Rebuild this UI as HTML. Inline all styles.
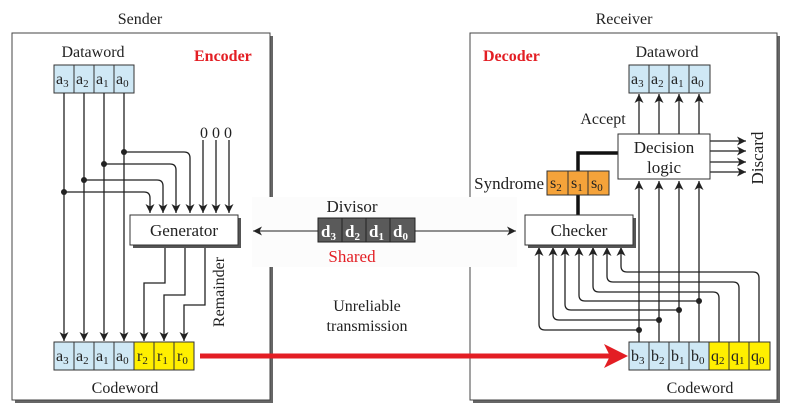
<!DOCTYPE html>
<html><head><style>
body{margin:0;background:#fff}
svg{display:block}
text{font-family:"Liberation Serif",serif;font-size:16px;fill:#222}
.c{text-anchor:middle}
</style></head><body>
<svg width="785" height="417" viewBox="0 0 785 417" xmlns="http://www.w3.org/2000/svg">
<defs>
<marker id="a" markerWidth="10" markerHeight="10" refX="9" refY="4.5" orient="auto" markerUnits="userSpaceOnUse"><path d="M0,0 L9,4.5 L0,9 L2.5,4.5z" fill="#222"/></marker>
</defs>
<rect x="15" y="36" width="258" height="367" fill="#666"/>
<rect x="12" y="33" width="258" height="367" fill="#fff" stroke="#444" stroke-width="1"/>
<text class="c" x="140" y="24">Sender</text>
<rect x="473" y="36" width="307" height="367" fill="#666"/>
<rect x="470" y="33" width="307" height="367" fill="#fff" stroke="#444" stroke-width="1"/>
<text class="c" x="624" y="24">Receiver</text>
<rect x="252" y="197" width="265" height="70" fill="#fcfcfc"/>
<text class="c" x="352" y="212" style="font-size:17px">Divisor</text>
<g fill="#5a5a5a" stroke="#222">
<rect x="318" y="218" width="24" height="24"/><rect x="342" y="218" width="24" height="24"/><rect x="366" y="218" width="24" height="24"/><rect x="390" y="218" width="25" height="24"/>
</g>
<text x="321" y="237" style="fill:#fff;font-weight:bold;font-size:17px">d<tspan dy="3" font-size="11">3</tspan></text>
<text x="345" y="237" style="fill:#fff;font-weight:bold;font-size:17px">d<tspan dy="3" font-size="11">2</tspan></text>
<text x="369" y="237" style="fill:#fff;font-weight:bold;font-size:17px">d<tspan dy="3" font-size="11">1</tspan></text>
<text x="393" y="237" style="fill:#fff;font-weight:bold;font-size:17px">d<tspan dy="3" font-size="11">0</tspan></text>
<line x1="318" y1="231" x2="253" y2="231" stroke="#222" marker-end="url(#a)"/>
<line x1="415" y1="231" x2="516" y2="231" stroke="#222" marker-end="url(#a)"/>
<text class="c" x="352" y="262" style="fill:#e31e24;font-size:17px">Shared</text>
<text class="c" x="367" y="311">Unreliable</text>
<text class="c" x="367" y="331">transmission</text>
<line x1="200" y1="356" x2="612" y2="356" stroke="#e31e24" stroke-width="5"/>
<path d="M604,344 L628,356 L604,368 L610,356z" fill="#e31e24"/>

<text x="194" y="61" style="fill:#e31e24;font-weight:bold;font-size:16px">Encoder</text>
<text class="c" x="93" y="57">Dataword</text>
<g fill="#cfe8f5" stroke="#333">
<rect x="54" y="65" width="20" height="28"/><rect x="74" y="65" width="20" height="28"/><rect x="94" y="65" width="20" height="28"/><rect x="114" y="65" width="20" height="28"/>
</g>
<text x="56" y="84">a<tspan dy="3" font-size="11">3</tspan></text>
<text x="76" y="84">a<tspan dy="3" font-size="11">2</tspan></text>
<text x="96" y="84">a<tspan dy="3" font-size="11">1</tspan></text>
<text x="116" y="84">a<tspan dy="3" font-size="11">0</tspan></text>
<g stroke="#222" fill="none" stroke-width="1.3">
<line x1="64" y1="93" x2="64" y2="341" marker-end="url(#a)"/>
<line x1="84" y1="93" x2="84" y2="341" marker-end="url(#a)"/>
<line x1="104" y1="93" x2="104" y2="341" marker-end="url(#a)"/>
<line x1="124" y1="93" x2="124" y2="341" marker-end="url(#a)"/>
<path d="M124,152 H184 Q190,152 190,158 V213" marker-end="url(#a)"/>
<path d="M104,164 H170 Q176,164 176,170 V213" marker-end="url(#a)"/>
<path d="M84,180 H157 Q163,180 163,186 V213" marker-end="url(#a)"/>
<path d="M64,192 H144 Q150,192 150,198 V213" marker-end="url(#a)"/>
<line x1="203" y1="140" x2="203" y2="213" marker-end="url(#a)"/>
<line x1="216" y1="140" x2="216" y2="213" marker-end="url(#a)"/>
<line x1="229" y1="140" x2="229" y2="213" marker-end="url(#a)"/>
<path d="M165,245 V283 H144 V341" marker-end="url(#a)"/>
<path d="M185,245 V295 H164 V341" marker-end="url(#a)"/>
<path d="M205,245 V305 H184 V341" marker-end="url(#a)"/>
</g>
<g fill="#222"><circle cx="124" cy="152" r="3"/><circle cx="104" cy="164" r="3"/><circle cx="84" cy="180" r="3"/><circle cx="64" cy="192" r="3"/></g>
<text class="c" x="216" y="138">0 0 0</text>
<rect x="133" y="218" width="108" height="30" fill="#555"/>
<rect x="130" y="215" width="108" height="30" fill="#fff" stroke="#333"/>
<text class="c" x="184" y="236" style="font-size:17px">Generator</text>
<text class="c" transform="translate(224,292) rotate(-90)">Remainder</text>
<g stroke="#333">
<rect x="54" y="342" width="20" height="28" fill="#cfe8f5"/><rect x="74" y="342" width="20" height="28" fill="#cfe8f5"/><rect x="94" y="342" width="20" height="28" fill="#cfe8f5"/><rect x="114" y="342" width="20" height="28" fill="#cfe8f5"/>
<rect x="134" y="342" width="20" height="28" fill="#ffef00"/><rect x="154" y="342" width="20" height="28" fill="#ffef00"/><rect x="174" y="342" width="20" height="28" fill="#ffef00"/>
</g>
<text x="56" y="361">a<tspan dy="3" font-size="11">3</tspan></text>
<text x="76" y="361">a<tspan dy="3" font-size="11">2</tspan></text>
<text x="96" y="361">a<tspan dy="3" font-size="11">1</tspan></text>
<text x="116" y="361">a<tspan dy="3" font-size="11">0</tspan></text>
<text x="137" y="361">r<tspan dy="3" font-size="11">2</tspan></text>
<text x="157" y="361">r<tspan dy="3" font-size="11">1</tspan></text>
<text x="177" y="361">r<tspan dy="3" font-size="11">0</tspan></text>
<text class="c" x="125" y="393">Codeword</text>

<text x="483" y="61" style="fill:#e31e24;font-weight:bold;font-size:16px">Decoder</text>
<text class="c" x="667" y="57">Dataword</text>
<g fill="#cfe8f5" stroke="#333">
<rect x="629" y="65" width="20" height="28"/><rect x="649" y="65" width="20" height="28"/><rect x="669" y="65" width="20" height="28"/><rect x="689" y="65" width="21" height="28"/>
</g>
<text x="631" y="84">a<tspan dy="3" font-size="11">3</tspan></text>
<text x="651" y="84">a<tspan dy="3" font-size="11">2</tspan></text>
<text x="671" y="84">a<tspan dy="3" font-size="11">1</tspan></text>
<text x="691" y="84">a<tspan dy="3" font-size="11">0</tspan></text>
<text class="c" x="603" y="124">Accept</text>
<g stroke="#222" fill="none" stroke-width="1.3">
<line x1="639" y1="134" x2="639" y2="94" marker-end="url(#a)"/>
<line x1="659" y1="134" x2="659" y2="94" marker-end="url(#a)"/>
<line x1="679" y1="134" x2="679" y2="94" marker-end="url(#a)"/>
<line x1="699" y1="134" x2="699" y2="94" marker-end="url(#a)"/>
<line x1="710" y1="141" x2="746" y2="141" marker-end="url(#a)"/>
<line x1="710" y1="151" x2="746" y2="151" marker-end="url(#a)"/>
<line x1="710" y1="162" x2="746" y2="162" marker-end="url(#a)"/>
<line x1="710" y1="172" x2="746" y2="172" marker-end="url(#a)"/>
<line x1="639" y1="342" x2="639" y2="181" marker-end="url(#a)"/>
<line x1="659" y1="342" x2="659" y2="181" marker-end="url(#a)"/>
<line x1="679" y1="342" x2="679" y2="181" marker-end="url(#a)"/>
<line x1="699" y1="342" x2="699" y2="181" marker-end="url(#a)"/>
<path d="M639,330 H545 Q539,330 539,324 V247" marker-end="url(#a)"/>
<path d="M659,320 H559 Q553,320 553,314 V247" marker-end="url(#a)"/>
<path d="M679,310 H571 Q565,310 565,304 V247" marker-end="url(#a)"/>
<path d="M699,301 H585 Q579,301 579,295 V247" marker-end="url(#a)"/>
<path d="M719,342 V298 Q719,292 713,292 H599 Q593,292 593,286 V247" marker-end="url(#a)"/>
<path d="M739,342 V288 Q739,282 733,282 H613 Q607,282 607,276 V247" marker-end="url(#a)"/>
<path d="M759,342 V278 Q759,272 753,272 H627 Q621,272 621,266 V247" marker-end="url(#a)"/>
</g>
<g fill="#222"><circle cx="639" cy="330" r="3"/><circle cx="659" cy="320" r="3"/><circle cx="679" cy="310" r="3"/><circle cx="699" cy="301" r="3"/></g>
<text class="c" transform="translate(763,158) rotate(-90)" style="font-size:17px">Discard</text>
<path d="M618,153 H578 V171 M578,195 V215" stroke="#111" stroke-width="3.5" fill="none"/>
<rect x="618" y="134" width="92" height="45" fill="#fff" stroke="#333"/>
<text class="c" x="664" y="153" style="font-size:17px">Decision</text>
<text class="c" x="664" y="173" style="font-size:17px">logic</text>
<g fill="#f5a33a" stroke="#333">
<rect x="547" y="171" width="21" height="24"/><rect x="568" y="171" width="20" height="24"/><rect x="588" y="171" width="21" height="24"/>
</g>
<text x="550" y="188">s<tspan dy="3" font-size="11">2</tspan></text>
<text x="571" y="188">s<tspan dy="3" font-size="11">1</tspan></text>
<text x="591" y="188">s<tspan dy="3" font-size="11">0</tspan></text>
<text x="544" y="189" text-anchor="end" style="font-size:17px">Syndrome</text>
<rect x="528" y="218" width="108" height="30" fill="#555"/>
<rect x="525" y="215" width="108" height="30" fill="#fff" stroke="#333"/>
<text class="c" x="579" y="236" style="font-size:17px">Checker</text>
<g stroke="#333">
<rect x="629" y="342" width="20" height="28" fill="#cfe8f5"/><rect x="649" y="342" width="20" height="28" fill="#cfe8f5"/><rect x="669" y="342" width="20" height="28" fill="#cfe8f5"/><rect x="689" y="342" width="20" height="28" fill="#cfe8f5"/>
<rect x="709" y="342" width="20" height="28" fill="#ffef00"/><rect x="729" y="342" width="20" height="28" fill="#ffef00"/><rect x="749" y="342" width="21" height="28" fill="#ffef00"/>
</g>
<text x="631" y="361">b<tspan dy="3" font-size="11">3</tspan></text>
<text x="651" y="361">b<tspan dy="3" font-size="11">2</tspan></text>
<text x="671" y="361">b<tspan dy="3" font-size="11">1</tspan></text>
<text x="691" y="361">b<tspan dy="3" font-size="11">0</tspan></text>
<text x="711" y="361">q<tspan dy="3" font-size="11">2</tspan></text>
<text x="731" y="361">q<tspan dy="3" font-size="11">1</tspan></text>
<text x="751" y="361">q<tspan dy="3" font-size="11">0</tspan></text>
<text class="c" x="700" y="393">Codeword</text>
</svg>
</body></html>
